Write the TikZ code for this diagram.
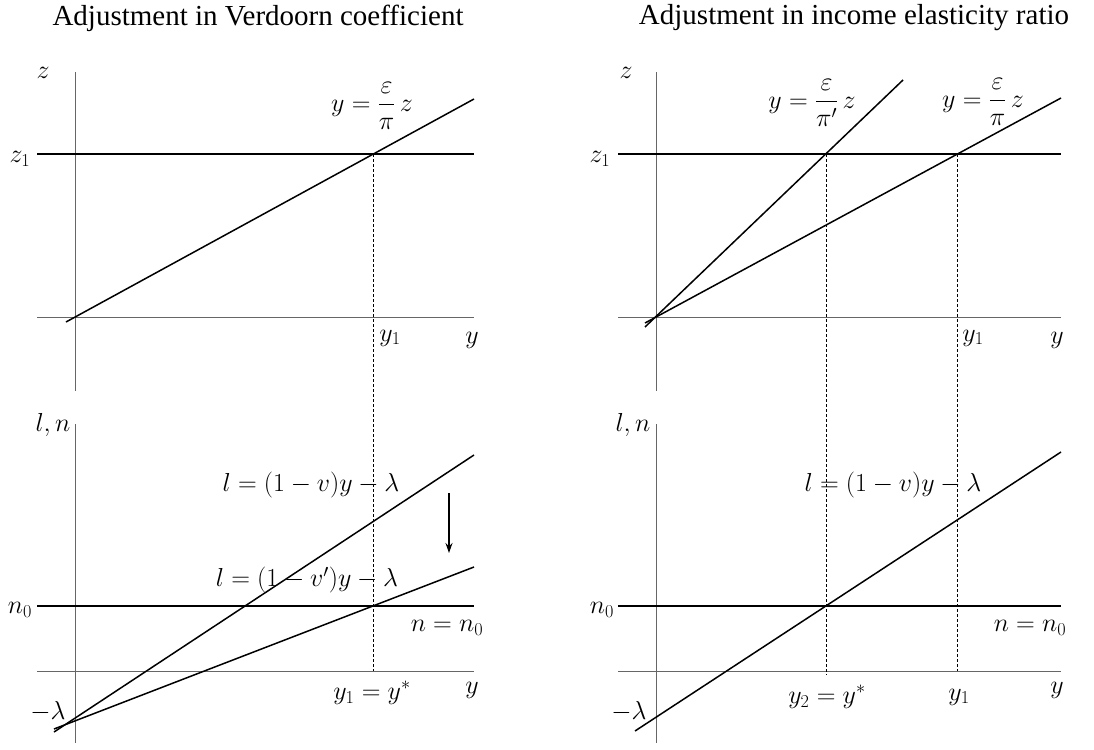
\RequirePackage{fix-cm}
\documentclass[tikz,border=0pt]{standalone}
\usepackage{amsmath}
\usepackage{fontspec}
\setmainfont{Liberation Serif}
\usetikzlibrary{arrows.meta}
\begin{document}
\begin{tikzpicture}[x=1pt,y=-1pt,
  axisline/.style={draw=black!60, line width=0.9pt},
  curve/.style={draw=black, line width=1.5pt},
  guide/.style={draw=black, line width=0.7pt, dash pattern=on 3pt off 2pt},
  lbl/.style={inner sep=0pt, font=\fontsize{26}{30}\selectfont},
  ttl/.style={inner sep=0pt, font=\fontsize{29}{34}\selectfont}]
\useasboundingbox (0,0) rectangle (1094,749);
% ---------- titles
\node[ttl] (t1) at (258,18) {Adjustment in Verdoorn coefficient};
\node[ttl] (t2) at (854,18) {Adjustment in income elasticity ratio};
% ---------- left panel coordinates
\coordinate (LVt1) at (75,72);
\coordinate (LVb1) at (75,391);
\coordinate (LVt2) at (75,424);
\coordinate (LVb2) at (75,743);
\coordinate (LHa) at (37,317);
\coordinate (LHb) at (474,317);
\coordinate (LZa) at (37,154);
\coordinate (LZb) at (474,154);
\coordinate (LRa) at (66,322);
\coordinate (LRb) at (474,99);
\coordinate (LDa) at (373,154);
\coordinate (LDb) at (373,671);
\coordinate (LH2a) at (37,671);
\coordinate (LH2b) at (474,671);
\coordinate (LNa) at (37,606);
\coordinate (LNb) at (474,606);
\coordinate (L1a) at (54,732);
\coordinate (L1b) at (474,455);
\coordinate (L2a) at (54,729);
\coordinate (L2b) at (474,567);
\coordinate (ARa) at (449,493);
\coordinate (ARb) at (449,553);
% axes
\draw[axisline] (LVt1) -- (LVb1);
\draw[axisline] (LVt2) -- (LVb2);
\draw[axisline] (LHa) -- (LHb);
\draw[axisline] (LH2a) -- (LH2b);
% curves
\draw[curve] (LZa) -- (LZb);
\draw[curve] (LRa) -- (LRb);
\draw[curve] (LNa) -- (LNb);
\draw[curve] (L1a) -- (L1b);
\draw[curve] (L2a) -- (L2b);
\draw[guide] (LDa) -- (LDb);
\draw[line width=1.2pt, -{Stealth[length=10pt,width=7pt]}] (ARa) -- (ARb);
% labels left
\node[lbl] (lz) at (43,73) {$z$};
\node[lbl] (lz1) at (20,159) {$z_1$};
\node[lbl] (ly1) at (390,338) {$y_1$};
\node[lbl] (ly) at (472,340) {$y$};
\node[lbl] (leq) at (372,106) {$y=\dfrac{\varepsilon}{\pi}\,z$};
\node[lbl] (lln) at (53,425) {$l,n$};
\node[lbl] (lf1) at (311,485) {$l=(1-v)y-\lambda$};
\node[lbl] (lf2) at (307,580) {$l=(1-v')y-\lambda$};
\node[lbl] (ln0) at (20,610) {$n_0$};
\node[lbl] (lnn) at (447,628) {$n=n_0$};
\node[lbl] (lys) at (372,693) {$y_1=y^*$};
\node[lbl] (ly2) at (472,690) {$y$};
\node[lbl] (llam) at (48,712) {$-\lambda$};
% ---------- right panel coordinates
\coordinate (RVt1) at (656,72);
\coordinate (RVb1) at (656,391);
\coordinate (RVt2) at (656,424);
\coordinate (RVb2) at (656,743);
\coordinate (RHa) at (618,317);
\coordinate (RHb) at (1061,317);
\coordinate (RZa) at (618,154);
\coordinate (RZb) at (1061,154);
\coordinate (RPa) at (645,323);
\coordinate (RPb) at (1061,98);
\coordinate (RQa) at (645,327);
\coordinate (RQb) at (903,80);
\coordinate (RD1a) at (826,154);
\coordinate (RD1b) at (826,675);
\coordinate (RD2a) at (957,154);
\coordinate (RD2b) at (957,671);
\coordinate (RH2a) at (618,671);
\coordinate (RH2b) at (1061,671);
\coordinate (RNa) at (618,606);
\coordinate (RNb) at (1061,606);
\coordinate (RLa) at (635,731);
\coordinate (RLb) at (1061,452);
% axes
\draw[axisline] (RVt1) -- (RVb1);
\draw[axisline] (RVt2) -- (RVb2);
\draw[axisline] (RHa) -- (RHb);
\draw[axisline] (RH2a) -- (RH2b);
% curves
\draw[curve] (RZa) -- (RZb);
\draw[curve] (RPa) -- (RPb);
\draw[curve] (RQa) -- (RQb);
\draw[curve] (RNa) -- (RNb);
\draw[curve] (RLa) -- (RLb);
\draw[guide] (RD1a) -- (RD1b);
\draw[guide] (RD2a) -- (RD2b);
% labels right
\node[lbl] (rz) at (626,73) {$z$};
\node[lbl] (rz1) at (600,159) {$z_1$};
\node[lbl] (ry1) at (973,338) {$y_1$};
\node[lbl] (ry) at (1057,340) {$y$};
\node[lbl] (req1) at (812,103) {$y=\dfrac{\varepsilon}{\pi'}\,z$};
\node[lbl] (req2) at (983,102) {$y=\dfrac{\varepsilon}{\pi}\,z$};
\node[lbl] (rln) at (633,425) {$l,n$};
\node[lbl] (rf1) at (893,485) {$l=(1-v)y-\lambda$};
\node[lbl] (rn0) at (602,610) {$n_0$};
\node[lbl] (rnn) at (1030,628) {$n=n_0$};
\node[lbl] (rys) at (827,697) {$y_2=y^*$};
\node[lbl] (ry1b) at (959,697) {$y_1$};
\node[lbl] (ry2) at (1057,690) {$y$};
\node[lbl] (rlam) at (629,712) {$-\lambda$};
\end{tikzpicture}
\end{document}
